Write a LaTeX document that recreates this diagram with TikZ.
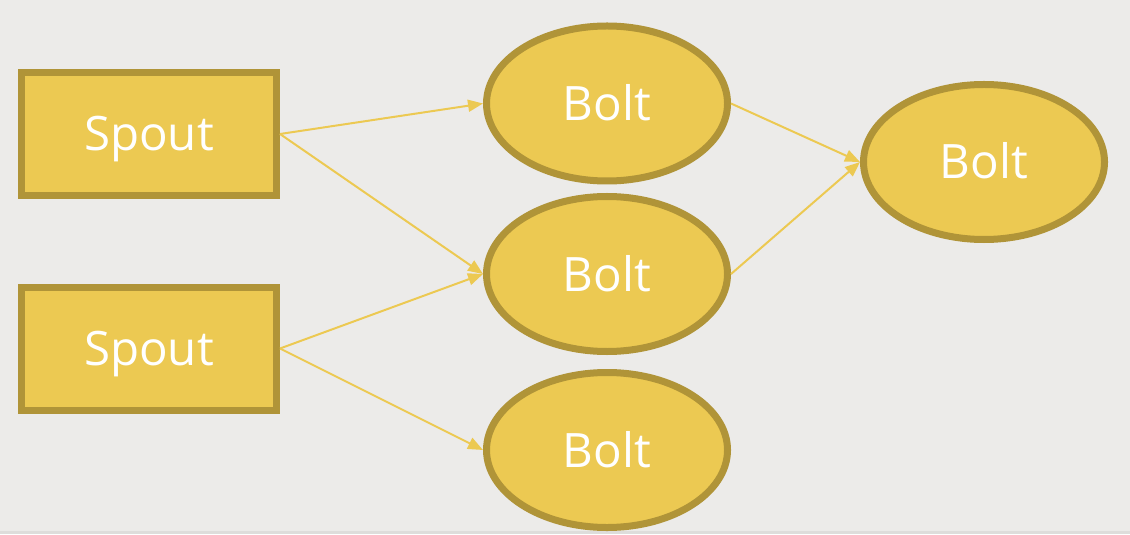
\documentclass[tikz,border=0pt]{standalone}
\usepackage{fontspec}
\setmainfont{Open Sans}
\usepackage{tikz}
\usetikzlibrary{arrows.meta,shapes.geometric,positioning}
\definecolor{boltfill}{RGB}{236,201,82}
\definecolor{boltline}{RGB}{176,148,56}
\definecolor{backdrop}{RGB}{236,235,233}
\definecolor{stripgray}{RGB}{222,221,219}
\tikzset{
    spout/.style={rectangle, draw=boltline, fill=boltfill, line width=0.07cm,
        minimum width=2.55cm, minimum height=1.23cm, text=white,
        text height=0.34cm, text depth=0cm, font=\fontsize{13.5}{16}\selectfont},
    bolt/.style={ellipse, draw=boltline, fill=boltfill, line width=0.07cm,
        minimum width=2.41cm, minimum height=1.55cm, text=white,
        text height=0.34cm, text depth=0cm, font=\fontsize{13.5}{16}\selectfont},
    stream/.style={draw=boltfill, line width=0.02cm, -{Triangle[length=0.15cm,width=0.12cm]}}
}
\begin{document}
\begin{tikzpicture}
                    \fill[backdrop] (0,0) rectangle (11.3,5.34);
                    \fill[stripgray] (0,0) rectangle (11.3,0.03);
                    \useasboundingbox (0,0) rectangle (11.3,5.34);

                    \node[spout] (s1) at (1.49, 4.00) {Spout};
                    \node[spout] (s2) at (1.49, 1.855) {Spout};
                    \node[bolt] (b1) at (6.07, 4.305) {Bolt};
                    \node[bolt] (b2) at (6.07, 2.60) {Bolt};
                    \node[bolt] (b3) at (6.07, 0.84) {Bolt};
                    \node[bolt] (b4) at (9.84, 3.72) {Bolt};

                    % \draw[stream] (s1) -- (b1);
                    \draw[stream] (s1.east) -- (b1.west);
                    \draw[stream] (s1.east) -- (b2.west);
                    \draw[stream] (s2.east) -- (b2.west);
                    \draw[stream] (s2.east) -- (b3.west);
                    \draw[stream] (b1.east) -- (b4.west);
                    \draw[stream] (b2.east) -- (b4.west);

                \end{tikzpicture}
\end{document}
